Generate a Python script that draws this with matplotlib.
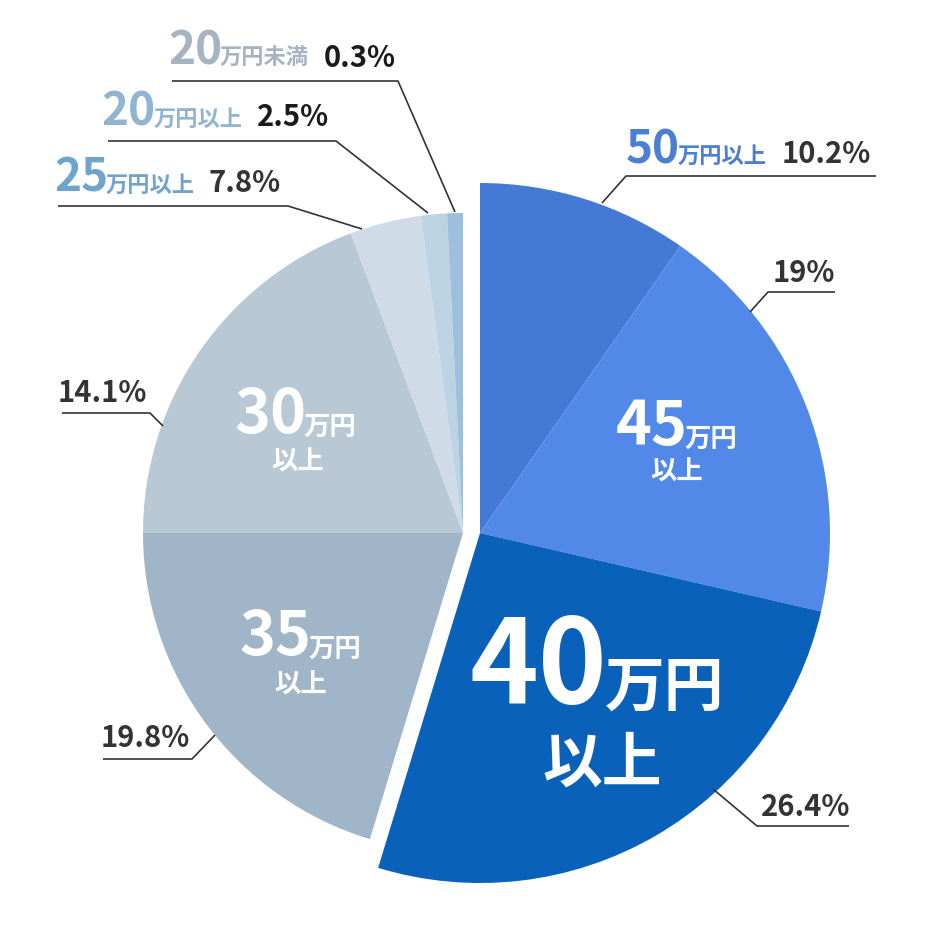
import matplotlib
matplotlib.use("Agg")
import matplotlib.pyplot as plt

plt.rcParams['font.family'] = ['Noto Sans CJK JP', 'DejaVu Sans']

# slices clockwise from 12 o'clock
categories = ["50万円以上", "45万円以上", "40万円以上", "35万円以上",
              "30万円以上", "25万円以上", "20万円以上", "20万円未満"]
pct_labels = ["10.2%", "19%", "26.4%", "19.8%", "14.1%", "7.8%", "2.5%", "0.3%"]
# wedge sizes as drawn in the picture
wedge_share = [9.7, 18.9, 26.1, 20.3, 19.3, 3.6, 1.3, 0.8]
colors = ["#4479d6", "#5289e9", "#0a61ba", "#a0b6c8",
          "#b8c8d5", "#cfdce7", "#bcd3e4", "#9dbfdc"]
blue_part = [True, True, True, False, False, False, False, False]

W, H = 940, 930
fig = plt.figure(figsize=(9.4, 9.3), dpi=100)
ax = fig.add_axes([0, 0, 1, 1])

def Y(y):
    return H - y

# blue slices are pulled out and a bit bigger
ax.pie(wedge_share, colors=[c if b else 'none' for c, b in zip(colors, blue_part)],
       radius=350, center=(480, Y(533)), startangle=90, counterclock=False,
       wedgeprops=dict(linewidth=0))
ax.pie(wedge_share, colors=['none' if b else c for c, b in zip(colors, blue_part)],
       radius=320, center=(463, Y(533)), startangle=90, counterclock=False,
       wedgeprops=dict(linewidth=0))

ax.set_xlim(0, W)
ax.set_ylim(0, H)
ax.set_aspect('equal')
ax.axis('off')

dark = "#333333"

def txt(x, y, s, size, color, **kw):
    ax.text(x, Y(y), s, fontsize=size, color=color, fontweight='bold',
            ha='left', va='baseline', **kw)

def leader(pts):
    ax.plot([p[0] for p in pts], [Y(p[1]) for p in pts], color=dark, lw=1.2,
            solid_capstyle='butt')

# outside labels with names
txt(168, 65, "20", 33, "#a7b4c0")
txt(220, 65, "万円未満", 16, "#a7b4c0")
txt(324, 67, pct_labels[7], 21, "#1a1a1a")
leader([(172, 81), (398, 81), (455, 212)])

txt(101, 126, "20", 33, "#8fb5d0")
txt(154, 126, "万円以上", 16, "#8fb5d0")
txt(257, 126, pct_labels[6], 21, "#1a1a1a")
leader([(108, 141), (336, 141), (428, 213)])

txt(54, 192, "25", 33, "#6fa5cc")
txt(106, 192, "万円以上", 16, "#6fa5cc")
txt(209, 192, pct_labels[5], 21, dark)
leader([(58, 206), (288, 206), (362, 229)])

txt(626, 163, "50", 33, "#4a7fd4")
txt(678, 163, "万円以上", 16, "#4a7fd4")
txt(782, 163, pct_labels[0], 21, dark)
leader([(876, 176), (626, 176), (602, 203)])

# percent only labels
txt(773, 282, pct_labels[1], 21, dark)
leader([(835, 292), (768, 292), (750, 312)])

txt(761, 816, pct_labels[2], 21, dark)
leader([(849, 826), (757, 826), (713, 789)])

txt(101, 747, pct_labels[3], 21, dark)
leader([(103, 759), (192, 759), (215, 735)])

txt(58, 402, pct_labels[4], 21, dark)
leader([(62, 413), (150, 413), (163, 426)])

# labels inside the slices
white = "white"
txt(470, 703, "40", 84, white)
txt(605, 706, "万円", 43, white)
txt(542, 782, "以上", 43, white)

txt(616, 445, "45", 44, white)
txt(684, 447, "万円", 19, white)
txt(650, 480, "以上", 19, white)

txt(234, 433, "30", 44, white)
txt(303, 435, "万円", 19, white)
txt(271, 470, "以上", 19, white)

txt(239, 655, "35", 44, white)
txt(308, 657, "万円", 19, white)
txt(274, 693, "以上", 19, white)

fig.savefig("out.png", dpi=100, facecolor="white")
